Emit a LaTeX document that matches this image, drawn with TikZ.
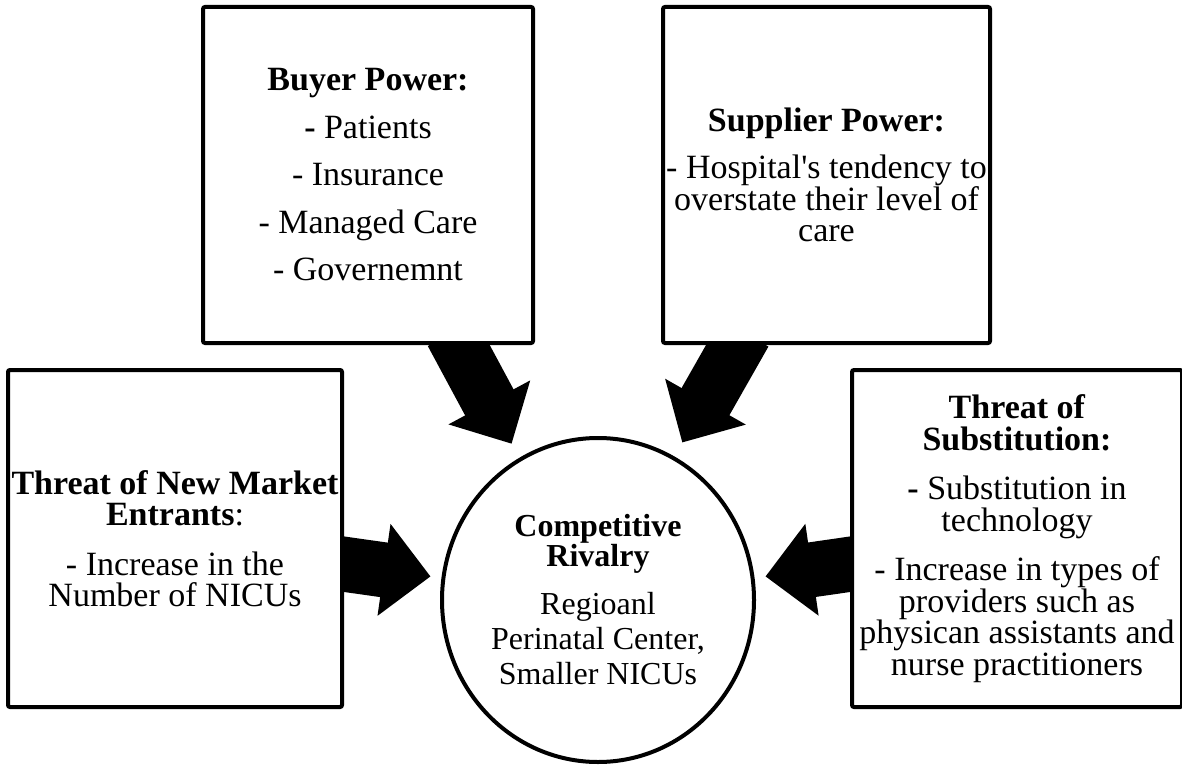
\documentclass[tikz,border=0pt]{standalone}
\usepackage{fontspec}
\setmainfont{Liberation Serif}
\usepackage{tikz}
\usetikzlibrary{arrows.meta, positioning, shapes.geometric, calc, backgrounds}

\begin{document}
\begin{tikzpicture}[
    x=1pt, y=1pt,
    box/.style={rectangle, draw=black, line width=4pt, fill=white, rounded corners=2pt, minimum width=330pt, minimum height=336pt, inner sep=2pt, align=center, font=\fontsize{34}{31.5}\selectfont},
    rivalry/.style={ellipse, draw=black, line width=4pt, fill=white, minimum width=312pt, minimum height=324pt, inner sep=0pt, align=center, font=\fontsize{32}{35}\selectfont},
    force/.style={line width=55pt, -{Triangle[length=47pt, width=90pt]}}
]
\useasboundingbox (0,0) rectangle (1182,764);

% --- Centre: rivalry among the units ---
\node[rivalry] (rival) at (598,164) {\textbf{Competitive}\\[-5pt] \textbf{Rivalry}\\[13pt] Regioanl\\ Perinatal Center,\\ Smaller NICUs};

% --- Top row: buyers and suppliers ---
\node[box, font=\fontsize{34}{47.5}\selectfont] (buyer) at (368,589) {\textbf{Buyer Power:}\\ \textbf{-} Patients\\ - Insurance\\ - Managed Care\\ - Governemnt};
\node[box, minimum width=327pt, right=126pt of buyer] (supplier) {\textbf{Supplier Power:}\\[15.5pt] - Hospital\textquotesingle s tendency to\\ overstate their level of\\ care};

% --- Bottom row: entrants and substitutes ---
\node[box, minimum width=334pt, minimum height=337pt] (entrants) at (175,225.5) {\textbf{Threat of New Market}\\ \textbf{Entrants}:\\[18pt] - Increase in the\\ Number of NICUs};
\node[box, minimum height=337pt, right=506pt of entrants] (subst) {\textbf{Threat of}\\ \textbf{Substitution:}\\[18pt] \textbf{-} Substitution in\\ technology\\[18pt] - Increase in types of\\ providers such as\\ physican assistants and\\ nurse practitioners};

% --- Forces pushing on the rivalry ---
\begin{scope}[on background layer]
\draw[force, shorten >=16pt] ($(buyer.south)+(84,12)$) -- (rival.119);
\draw[force, shorten >=16pt] ($(supplier.south)+(-82,12)$) -- (rival.62);
\draw[force, shorten >=11pt] ($(entrants.east)+(-12,-24)$) -- (rival.172);
\draw[force, shorten >=11pt] ($(subst.west)+(12,-24)$) -- (rival.8);
\end{scope}

\end{tikzpicture}
\end{document}
